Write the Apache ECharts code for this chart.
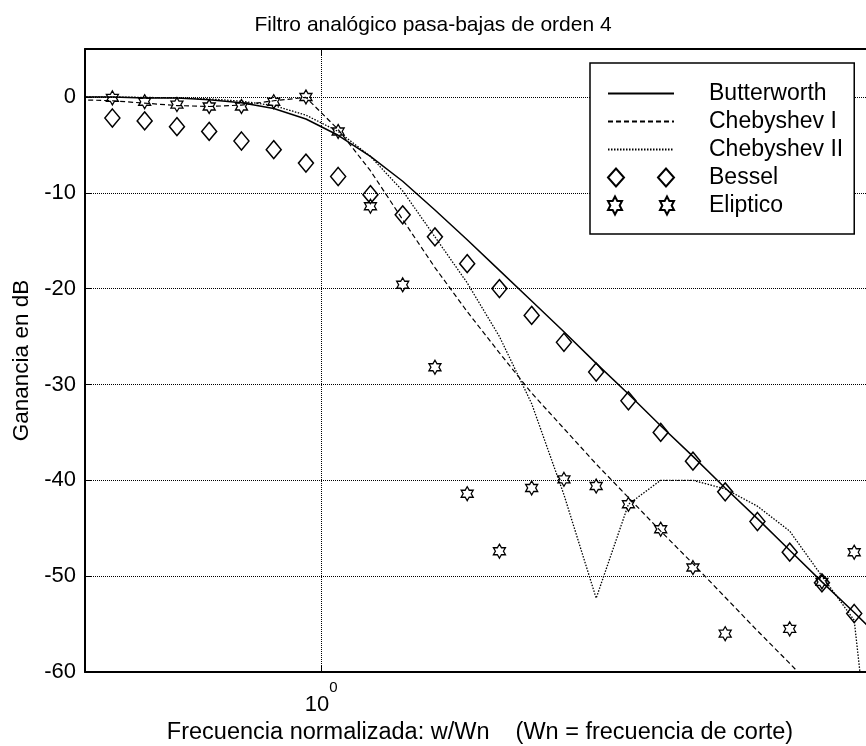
<!DOCTYPE html>
<html>
<head>
<meta charset="utf-8">
<script src="https://cdn.jsdelivr.net/npm/echarts@6/dist/echarts.min.js"></script>
<style>
  html, body { margin: 0; padding: 0; background: #fff; }
  #chart { width: 866px; height: 746px; }
</style>
</head>
<body>
<div id="chart"></div>
<script>
// frecuencia normalizada w/Wn (muestras logaritmicas)
var freq = [0.4965, 0.5452, 0.5988, 0.6577, 0.7223, 0.7933, 0.8713, 0.9568, 1.0507, 1.1540,
  1.2674, 1.3919, 1.5287, 1.6788, 1.8437, 2.0249, 2.2238, 2.4423, 2.6823, 2.9458,
  3.2352, 3.5531, 3.9022, 4.2855, 4.7068, 5.1690];

// ganancia en dB
var butterworth = [0, 0, -0.1, -0.1, -0.3, -0.6, -1.2, -2.3, -4.0, -6.2, -8.8, -11.8, -14.9,
  -18.1, -21.3, -24.5, -27.8, -31.0, -34.3, -37.5, -40.8, -44.0, -47.3, -50.6, -53.8, -57.1];
var chebyshev1 = [-0.3, -0.4, -0.65, -0.9, -1.0, -0.85, -0.4, -0.05, -3.4, -7.7, -12.8, -17.8,
  -22.4, -26.7, -30.9, -34.6, -38.3, -41.8, -45.3, -48.7, -52.2, -55.7, -59.1, -62.6, -66.0, -69.5];
var chebyshev2 = [0, 0, -0.05, -0.1, -0.2, -0.45, -0.9, -1.9, -3.6, -6.2, -9.8, -14.6, -19.4,
  -25.0, -32.0, -41.5, -52.3, -42.5, -40.0, -40.0, -40.9, -42.7, -45.3, -50.0, -54.6, -85];
// marcadores: freq[1] .. freq[24]
var bessel = [-2.2, -2.5, -3.1, -3.6, -4.6, -5.5, -6.9, -8.3, -10.2, -12.3, -14.6, -17.4,
  -20.0, -22.8, -25.6, -28.7, -31.7, -35.0, -38.0, -41.2, -44.3, -47.5, -50.7, -53.9];
var eliptico = [-0.1, -0.5, -0.8, -1.0, -1.0, -0.5, 0.0, -3.6, -11.4, -19.6, -28.2, -41.4,
  -47.4, -40.8, -39.9, -40.6, -42.5, -45.1, -49.1, -56.0, -63.0, -55.5, -50.6, -47.5];

var yTicks = [-60, -50, -40, -30, -20, -10, 0];

var fontName = "'Liberation Sans', Arial, sans-serif";
var hexagram = 'path://M50,0L64.4,25L93.3,25L78.9,50L93.3,75L64.4,75L50,100L35.6,75L6.7,75L21.1,50L6.7,25L35.6,25Z';
var twoDiamonds = 'path://M0,9L8,0L16,9L8,18ZM50,9L58,0L66,9L58,18Z';
var twoHexagrams = 'path://M7,0L9.33,4.5L14,4.5L11.66,9L14,13.5L9.33,13.5L7,18L4.67,13.5L0,13.5L2.34,9L0,4.5L4.67,4.5Z' +
  'M59,0L61.33,4.5L66,4.5L63.66,9L66,13.5L61.33,13.5L59,18L56.67,13.5L52,13.5L54.34,9L52,4.5L56.67,4.5Z';

function pairs(xs, ys) {
  return ys.map(function(y, i) { return [xs[i], y]; });
}

var chart = echarts.init(document.getElementById('chart'), null, { renderer: 'canvas' });

var xMin = 0.5035, xMax = 5.0;
var noSymbol = { color: 'rgba(0,0,0,0)', borderWidth: 0, opacity: 0 };

var chartSettings = {
  animation: false,
  backgroundColor: '#fff',
  textStyle: { fontFamily: fontName, color: '#000' },
  title: {
    text: 'Filtro analógico pasa-bajas de orden 4',
    left: 'center',
    top: 10,
    textStyle: { fontFamily: fontName, fontSize: 21, fontWeight: 'normal', color: '#000' }
  },
  grid: { left: 85, top: 49, right: -9, bottom: 74, containLabel: false, outerBoundsMode: 'none' },
  legend: {
    orient: 'vertical',
    left: 590,
    top: 63,
    padding: [19, 11, 17, 17],
    itemWidth: 66,
    itemHeight: 18,
    itemGap: 5,
    backgroundColor: '#fff',
    borderColor: '#000',
    borderWidth: 1.5,
    borderRadius: 0,
    selectedMode: false,
    textStyle: { fontFamily: fontName, fontSize: 23, color: '#000', padding: [0, 0, 0, 30] },
    data: [
      { name: 'Butterworth', itemStyle: noSymbol },
      { name: 'Chebyshev I', itemStyle: noSymbol },
      { name: 'Chebyshev II', itemStyle: noSymbol },
      { name: 'Bessel', icon: twoDiamonds },
      { name: 'Eliptico', icon: twoHexagrams }
    ]
  },
  xAxis: [{
    type: 'log',
    logBase: 10,
    min: xMin,
    max: xMax,
    name: 'Frecuencia normalizada: w/Wn    (Wn = frecuencia de corte)',
    nameLocation: 'middle',
    nameGap: 47,
    nameTextStyle: { fontFamily: fontName, fontSize: 23.5, color: '#000' },
    axisLine: { show: true, onZero: false, lineStyle: { color: '#000', width: 2 } },
    axisTick: { show: true, inside: true, length: 6, lineStyle: { color: '#000', width: 1 } },
    minorTick: { show: false },
    axisLabel: {
      margin: 8,
      showMinLabel: false,
      showMaxLabel: false,
      color: '#000',
      formatter: function(v) {
        return Math.abs(v - 1) < 1e-6 ? '{b|10}{s|0}' : '';
      },
      rich: {
        b: { fontFamily: fontName, fontSize: 22, color: '#000', verticalAlign: 'bottom', padding: [14, 0, 0, 0] },
        s: { fontFamily: fontName, fontSize: 15, color: '#000', verticalAlign: 'top' }
      }
    },
    splitLine: { show: true, lineStyle: { color: '#000', width: 1, type: [1, 1] } }
  }, {
    type: 'log',
    logBase: 10,
    min: xMin,
    max: xMax,
    position: 'top',
    axisLine: { show: true, onZero: false, lineStyle: { color: '#000', width: 2 } },
    axisTick: { show: true, inside: true, length: 6, lineStyle: { color: '#000', width: 1 } },
    axisLabel: { show: false },
    splitLine: { show: false }
  }],
  yAxis: {
    type: 'value',
    min: -60,
    max: 5,
    interval: 10,
    name: 'Ganancia en dB',
    nameLocation: 'middle',
    nameGap: 51,
    nameTextStyle: { fontFamily: fontName, fontSize: 22.5, color: '#000' },
    axisLine: { show: true, onZero: false, lineStyle: { color: '#000', width: 2 } },
    axisTick: { show: true, inside: true, length: 6, lineStyle: { color: '#000', width: 1 } },
    axisLabel: {
      margin: 9,
      showMaxLabel: false,
      fontFamily: fontName,
      fontSize: 22,
      color: '#000',
      formatter: function(v) { return yTicks.indexOf(v) >= 0 ? String(v) : ''; }
    },
    splitLine: { show: true, lineStyle: { color: '#000', width: 1, type: [1, 1] } }
  },
  series: [{
    name: 'Butterworth',
    type: 'line',
    data: pairs(freq, butterworth),
    symbol: 'none',
    clip: true,
    lineStyle: { color: '#000', width: 1.5, type: 'solid' },
    itemStyle: { color: '#000' }
  }, {
    name: 'Chebyshev I',
    type: 'line',
    data: pairs(freq, chebyshev1),
    symbol: 'none',
    clip: true,
    lineStyle: { color: '#000', width: 1.2, type: [5, 3] },
    itemStyle: { color: '#000' }
  }, {
    name: 'Chebyshev II',
    type: 'line',
    data: pairs(freq, chebyshev2),
    symbol: 'none',
    clip: true,
    lineStyle: { color: '#000', width: 1.3, type: [1.5, 1.5] },
    itemStyle: { color: '#000' }
  }, {
    name: 'Bessel',
    type: 'scatter',
    data: pairs(freq.slice(1), bessel),
    symbol: 'diamond',
    symbolSize: [15, 18],
    clip: true,
    itemStyle: { color: 'rgba(0,0,0,0)', borderColor: '#000', borderWidth: 1.5, opacity: 1 }
  }, {
    name: 'Eliptico',
    type: 'scatter',
    data: pairs(freq.slice(1), eliptico),
    symbol: hexagram,
    symbolSize: [12, 14],
    clip: true,
    itemStyle: { color: 'rgba(0,0,0,0)', borderColor: '#000', borderWidth: 1.3, opacity: 1 }
  }]
};

chart.setOption(chartSettings);
</script>
</body>
</html>
